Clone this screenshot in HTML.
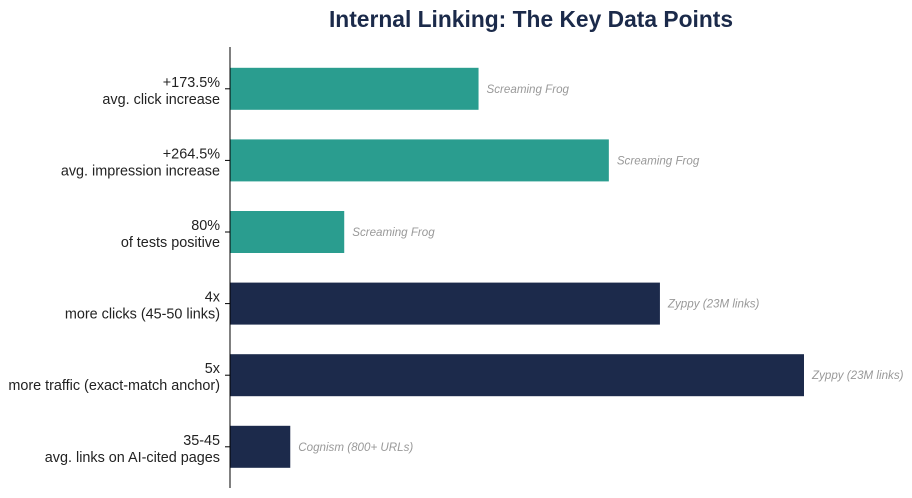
<!DOCTYPE html>
<html><head><meta charset="utf-8"><style>
body{margin:0;background:#fff;}
svg{display:block;font-family:"Liberation Sans",Arial,sans-serif;}
</style></head><body>
<svg id="chart" width="912" height="498">
<text x="531" y="27" text-anchor="middle" font-size="22.8" font-weight="bold" fill="#1b2a4a">Internal Linking: The Key Data Points</text>
<g id="bars"></g>
<line x1="230" y1="47" x2="230" y2="488" stroke="#000" stroke-width="1"></line>
</svg>
<script>
const metricLabels = ["+173.5%", "+264.5%", "80%", "4x", "5x", "35-45"];
const metricDescriptions = ["avg. click increase", "avg. impression increase", "of tests positive", "more clicks (45-50 links)", "more traffic (exact-match anchor)", "avg. links on AI-cited pages"];
const barValues = [43.3, 66.0, 19.9, 74.9, 100, 10.5];
const sources = ["Screaming Frog", "Screaming Frog", "Screaming Frog", "Zyppy (23M links)", "Zyppy (23M links)", "Cognism (800+ URLs)"];
const groups = ["teal", "teal", "teal", "navy", "navy", "navy"];

const NS = "http://www.w3.org/2000/svg";
const g = document.getElementById("bars");
const x0 = 230, xMaxPx = 574, vMax = 100;
const yTop = 47, band = 71.6, barH = 42;
function xScale(v){ return x0 + v / vMax * xMaxPx; }
function yCenter(i){ return yTop + band * (i + 0.5) + 6; }
const colors = {teal: "#2a9d8f", navy: "#1c2a4b"};
function mk(tag, attrs){ const e = document.createElementNS(NS, tag); for (const k in attrs) e.setAttribute(k, attrs[k]); return e; }
barValues.forEach((v, i) => {
  const cy = yCenter(i);
  const r = mk("rect", {x: x0, y: cy - barH/2, width: xScale(v) - x0, height: barH, fill: colors[groups[i]]});
  
  
  g.appendChild(r);
  const t = mk("line", {x1: x0 - 5, x2: x0, y1: cy, y2: cy, stroke: "#000"});
  
  
  g.appendChild(t);
  const l1 = mk("text", {x: 220, y: cy - 2, "text-anchor": "end", "font-size": 14.4, fill: "#222"});
  l1.textContent = metricLabels[i];
  
  
  g.appendChild(l1);
  const l2 = mk("text", {x: 220, y: cy + 15, "text-anchor": "end", "font-size": 14.4, fill: "#222"});
  l2.textContent = metricDescriptions[i];
  
  
  g.appendChild(l2);
  const s = mk("text", {x: xScale(v) + 8, y: cy + 4, "font-size": 11.6, "font-style": "italic", fill: "#999"});
  s.textContent = sources[i];
  
  
  g.appendChild(s);
});
</script>
</body></html>
